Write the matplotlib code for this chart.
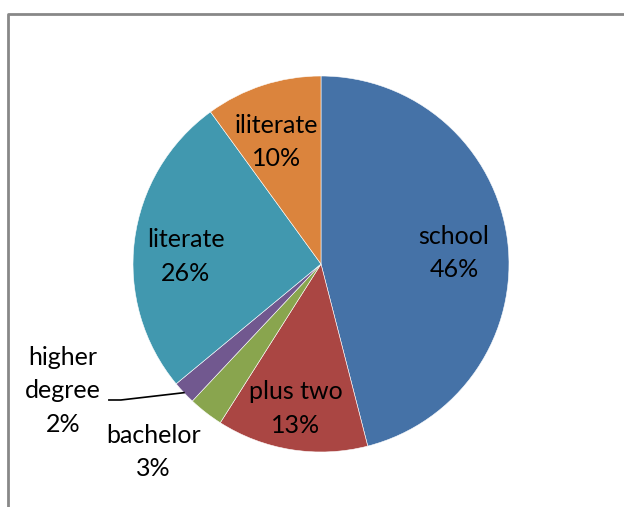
import numpy as np
import matplotlib.pyplot as plt

# education levels, percent share
labels = ["school", "plus two", "bachelor", "higher\ndegree", "literate", "iliterate"]
shares = [46, 13, 3, 2, 26, 10]
colors = ["#4572A7", "#AA4643", "#89A54E", "#71588F", "#4198AF", "#DB843D"]

# label placement: radial distance (in radii) and angle nudge (deg) per slice
label_r = [0.71, 0.78, 1.34, 1.53, 0.72, 0.69]
label_dang = [-2.5, -1, -4, -17, 4, 2]

fig = plt.figure(figsize=(6.24, 5.07), dpi=100)
ax = fig.add_axes([0, 0, 1, 1])

cx, cy, R = 321, 243, 188
wedges, _ = ax.pie(shares, colors=colors, startangle=90, counterclock=False,
                   center=(cx, cy), radius=R, frame=True,
                   wedgeprops=dict(edgecolor="white", linewidth=0.4))
ax.set_xlim(0, 624)
ax.set_ylim(0, 507)
ax.set_aspect("equal")
ax.axis("off")

# chart area border (top and left edges visible)
ax.plot([7.5, 7.5, 624], [0, 493, 493], color="#888888", lw=2, solid_capstyle="butt")

for w, lab, val, r, da in zip(wedges, labels, shares, label_r, label_dang):
    mid = np.deg2rad((w.theta1 + w.theta2) / 2 + da)
    x = cx + r * R * np.cos(mid)
    y = cy + r * R * np.sin(mid)
    ax.text(x, y, f"{lab}\n{val}%", ha="center", va="center", fontsize=18,
            family="Lato", linespacing=1.55, color="black")
    if "higher" in lab:
        # leader line from the label to its thin slice
        edge = np.deg2rad((w.theta1 + w.theta2) / 2)
        ex, ey = cx + R * np.cos(edge), cy + R * np.sin(edge)
        ax.plot([x + 46, x + 58, ex], [y - 9, y - 9, ey], color="black", lw=1.2)

fig.savefig("out.png", dpi=100)
